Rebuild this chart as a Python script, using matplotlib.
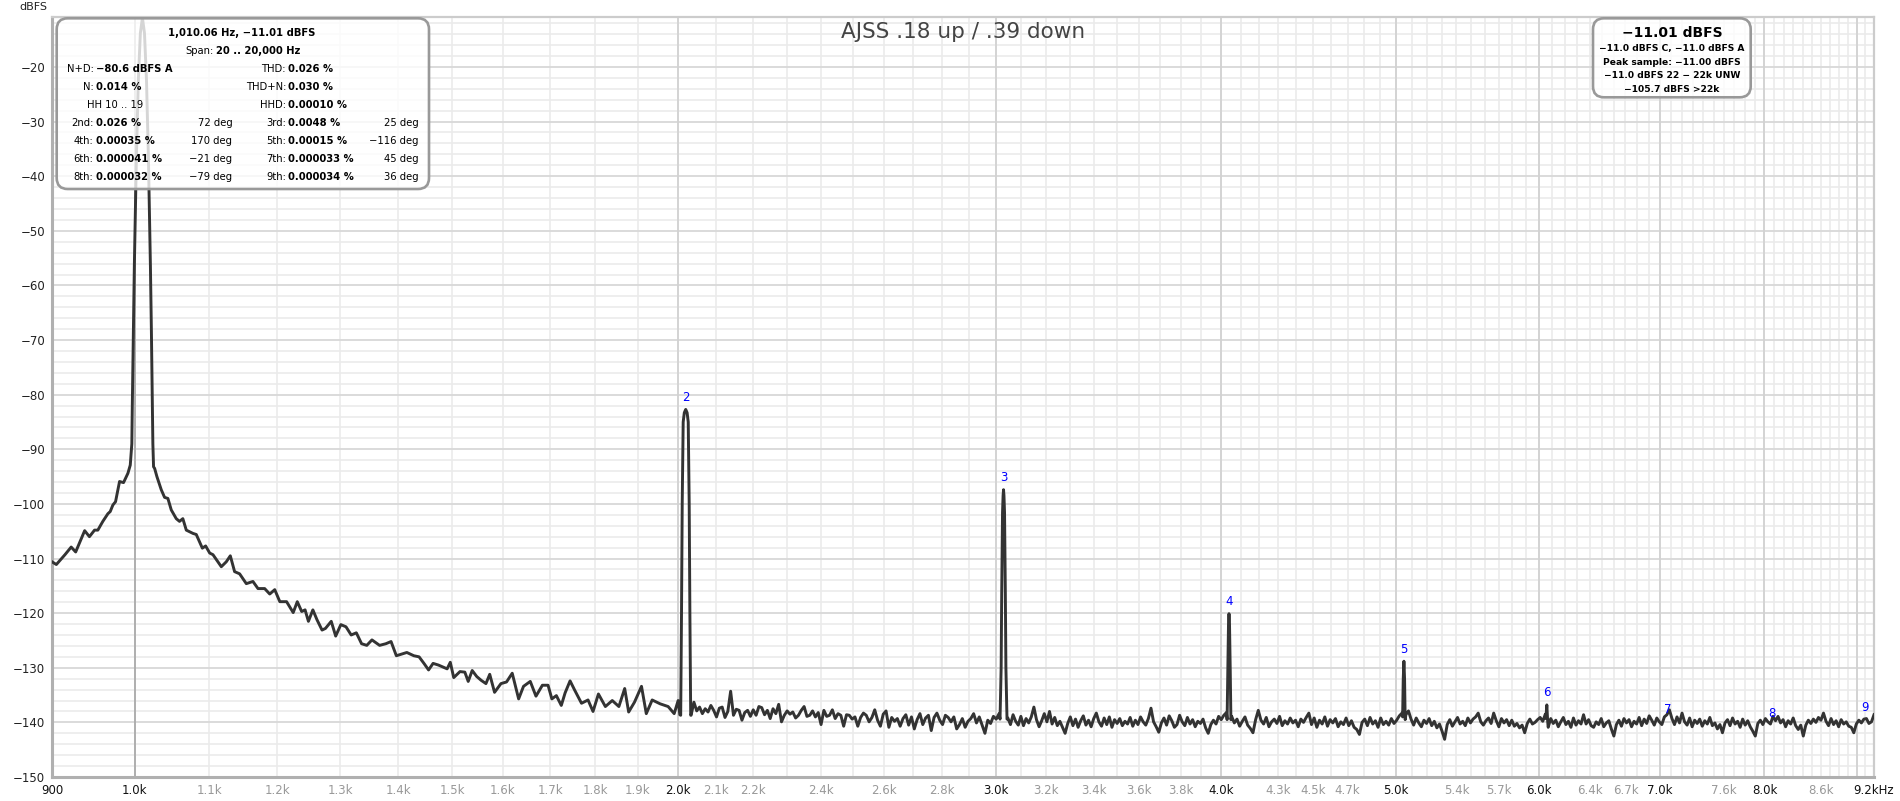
import numpy as np
import matplotlib
matplotlib.use("Agg")
import matplotlib.pyplot as plt
from matplotlib.patches import FancyBboxPatch
from matplotlib.transforms import IdentityTransform
from matplotlib.ticker import FixedLocator, MultipleLocator, NullFormatter

plt.rcParams['font.family'] = ['DejaVu Sans']

# ---- spectrum (Hz, dBFS) ----
skirt_lo_f = [900, 905, 915, 922.3, 927.6, 938.3, 944, 950.2, 954.2, 960.3, 966.5, 969.4,
              972.7, 976, 981, 986, 991.5, 994.5]
skirt_lo_db = [-110.6, -111.1, -109.3, -107.9, -108.8, -104.9, -106, -104.8, -104.8, -103.2,
               -101.8, -101.4, -100.2, -99.6, -95.9, -96.1, -94.4, -92.9]

fund_f = [996.5, 997.1, 998.4, 999.7, 1002.3, 1004.8, 1007.4, 1010.06, 1012.7, 1015.3,
          1017.8, 1020.4, 1021.7, 1023.0, 1023.6]
fund_db = [-89, -82, -68.5, -56.4, -36.6, -22.4, -13.8, -11.01, -13.8, -22.4, -36.6,
           -56.4, -68.5, -82, -89]

skirt_hi_f = [1024.5, 1025.9, 1028.9, 1034.6, 1039, 1043.4, 1047.9, 1054.6, 1059, 1063.5,
              1068.2, 1077.3, 1081.9, 1090.3, 1094.9, 1100.6, 1105.2, 1117, 1124.1, 1129.9,
              1136.1, 1143.4, 1153.2, 1163, 1170.5, 1180.5, 1188.2, 1195.8, 1203.6, 1214,
              1224.3, 1230.7, 1237.6, 1243, 1248.3, 1255.4, 1262, 1270.2, 1275.7, 1285.2,
              1292.5, 1301, 1309.6, 1318.3, 1327, 1335.9, 1344.8, 1353.7, 1367, 1377.9,
              1387.1, 1396.5, 1405.8, 1415.3, 1428, 1437.6, 1447.3, 1455.1, 1463.5, 1473.4]
skirt_hi_db = [-93.2, -93.5, -95, -97.4, -98.8, -99, -101.1, -102.7, -103.2, -102.7,
               -104.8, -105.4, -105.6, -108.1, -107.7, -109, -109.3, -111.5, -110.6, -109.5,
               -112.4, -112.8, -114.6, -114.2, -115.5, -115.5, -116.5, -115.7, -117.9, -117.9,
               -119.9, -117.9, -119.7, -119.4, -121.5, -119.4, -121.2, -123.1, -122.8, -121.5,
               -124.2, -122.1, -122.5, -124, -123.6, -125.6, -125.9, -124.9, -125.9, -125.6,
               -125.2, -127.8, -127.5, -127.2, -127.8, -128, -129.3, -130.4, -129.2, -129.5]

mid_f = [1490, 1496, 1502.6, 1514.6, 1524, 1530.6, 1538.4, 1547.3, 1556.1, 1565.6, 1573.2,
         1582.9, 1595.9, 1607.3, 1619, 1632.3, 1642.5, 1656.7, 1668.8, 1682.5, 1694.7, 1703,
         1712.8, 1723.6, 1732, 1743, 1753.3, 1768.6, 1783.4, 1794.8, 1807.2, 1823.3, 1839.4,
         1855, 1868.8, 1878.3, 1892.3, 1909.3, 1921, 1935.5, 1955.2, 1975.3, 1990.6, 2000.7, 2005]
mid_db = [-130.2, -129.0, -131.8, -130.7, -130.8, -132.5, -130.5, -131.6, -132.3, -132.9,
          -131.2, -134.5, -132.9, -132.6, -131, -135.7, -133.4, -132.5, -135.2, -133.2, -133.2,
          -135.7, -135.1, -136.9, -134.6, -132.4, -134.1, -136.5, -135.9, -138, -134.8, -137.1,
          -136, -137.1, -133.8, -138.1, -136.3, -133.4, -138.4, -135.9, -136.6, -137.1, -138.4,
          -136, -138.6]

h2_f = [2007.2, 2009.3, 2011.1, 2013.6, 2016.5, 2020.1, 2023.7, 2026.6, 2029.1, 2030.9, 2033]
h2_db = [-138.7, -120, -100, -85, -83.3, -82.7, -83.3, -85, -100, -120, -138.7]
h3_f = [3016.7, 3021, 3023.2, 3026.3, 3028.5, 3030.2, 3031.9, 3034.1, 3037.2, 3039.4, 3043.7]
h3_db = [-139.4, -130, -116.3, -101.6, -98.5, -97.4, -98.5, -101.6, -116.3, -130, -139.4]
h4_f = [4030.4, 4034, 4037.6, 4040.2, 4042.8, 4046.4, 4050]
h4_db = [-139.5, -130, -122, -120.1, -122, -130, -139.5]
h5_f = [5042, 5046, 5050.3, 5054.5, 5058.5]
h5_db = [-139, -132, -128.8, -132, -139.5]
h6_f = [6053, 6060.4, 6067]
h6_db = [-139.3, -136.8, -139.8]

# noise floor, read at even (log) steps between the listed edges
floor0_edges = (2034, 3013)
floor0_db = [-138.7, -136.3, -137.9, -137.2, -138.4, -137.5, -138.1, -136.9, -137.8, -139.0,
             -137.4, -137.2, -139.1, -138.0, -134.3, -138.7, -137.6, -137.8, -139.6, -138.2,
             -137.8, -138.9, -137.7, -138.7, -137.1, -137.3, -138.6, -137.8, -139.3, -137.5,
             -138.4, -136.7, -139.9, -138.7, -137.9, -138.5, -138.1, -139.2, -138.7, -137.8,
             -137.1, -138.9, -138.7, -137.9, -139.0, -138.2, -140.4, -137.8, -138.9, -138.7,
             -137.7, -139.3, -138.4, -138.7, -140.7, -138.6, -138.7, -139.4, -139.0, -140.7,
             -139.1, -138.3, -138.7, -139.9, -139.1, -137.7, -139.6, -140.7, -138.5, -137.9,
             -140.9, -139.1, -139.8, -139.3, -140.7, -139.3, -138.6, -140.5, -139.0, -141.2,
             -139.5, -138.4, -140.4, -139.2, -138.7, -141.5, -139.1, -138.3, -139.6, -140.4,
             -138.7, -139.1, -139.9, -139.0, -141.2, -140.4, -139.3, -140.9, -139.8, -139.3,
             -138.4, -140.1, -139.0, -140.5, -142.0, -139.6, -140.2, -138.9, -139.4, -138.4]
floorA_edges = (3047, 4027)
floorA_db = [-139.2, -140.4, -138.6, -139.8, -140.5, -138.9, -140.6, -139.3, -140.1, -139.0,
             -137.2, -139.5, -140.8, -139.7, -138.4, -139.9, -138.0, -140.3, -139.1, -140.6,
             -139.8, -140.9, -142.0, -140.2, -139.0, -140.6, -139.4, -140.9, -139.7, -138.8,
             -140.5, -139.6, -140.8, -139.3, -138.3, -139.9, -140.7, -139.2, -140.4, -139.0,
             -140.9, -139.5, -140.2, -139.3, -140.6, -139.8, -140.3, -139.1, -140.7, -139.6,
             -140.4, -139.0, -139.9, -140.5, -139.3, -137.4, -139.9, -140.8, -141.8, -140.1,
             -139.2, -140.5, -138.8, -139.7, -140.9, -140.4, -138.7, -139.9, -140.6, -139.1,
             -140.3, -139.5, -140.8, -139.8, -140.2, -139.4, -141.0, -142.0, -140.4, -139.6,
             -140.3, -138.9, -139.5, -138.7, -138.2]
floorB_edges = (4054, 5038)
floorB_db = [-138.9, -140.1, -139.4, -140.7, -139.8, -139.0, -140.5, -141.1, -141.9, -139.5,
             -137.8, -139.6, -140.3, -139.1, -140.8, -139.9, -139.4, -140.2, -138.9, -140.6,
             -139.7, -140.3, -139.2, -140.1, -139.6, -140.8, -139.4, -140.0, -139.1, -138.3,
             -140.4, -139.2, -140.9, -139.6, -140.3, -139.0, -140.7, -139.5, -140.1, -139.3,
             -140.8, -139.9, -140.4, -139.2, -140.6, -139.7, -140.9, -141.3, -142.2, -140.0,
             -139.4, -140.6, -139.1, -140.3, -139.7, -140.9, -139.2, -140.4, -139.8, -140.5,
             -139.3, -140.2, -139.6, -138.8, -138.3]
floorC1_edges = (5063, 6049)
floorC1_db = [-138.6, -137.9, -139.4, -140.5, -139.2, -140.1, -140.8, -139.6, -140.2, -139.3,
              -140.6, -139.8, -141.0, -140.3, -141.6, -143.1, -140.4, -139.5, -140.7, -139.9,
              -139.1, -140.3, -139.8, -140.6, -139.2, -140.1, -139.4, -139.0, -138.3, -139.9,
              -140.5, -139.7, -139.2, -140.2, -138.3, -139.7, -140.8, -139.3, -140.1, -139.5,
              -140.6, -139.6, -140.7, -140.2, -141.0, -140.5, -141.9, -140.2, -139.4, -140.3,
              -140.0, -139.5, -139.1, -139.8, -138.5]
floorC2_edges = (6071, 9200)
floorC2_db = [-140.9, -139.3, -140.2, -139.6, -140.8, -139.9, -139.1, -140.4, -139.8, -140.9,
              -139.2, -140.5, -139.7, -140.3, -138.6, -140.3, -139.5, -140.6, -140.9, -139.9,
              -140.4, -139.3, -140.8, -140.1, -139.7, -141.2, -142.5, -140.4, -139.6, -140.7,
              -139.3, -140.1, -139.5, -140.8, -139.8, -140.3, -139.1, -140.6, -139.4, -140.2,
              -138.8, -139.6, -140.5, -139.2, -139.9, -140.4, -139.0, -138.6, -137.7, -139.3,
              -140.4, -139.0, -140.1, -138.3, -139.9, -140.5, -139.2, -140.8, -139.6, -140.2,
              -139.4, -140.7, -139.7, -140.3, -139.1, -140.6, -140.1, -141.2, -140.4, -141.9,
              -140.1, -139.5, -140.6, -139.2, -140.3, -139.8, -140.9, -139.4, -140.5, -139.7,
              -140.8, -141.6, -142.5, -140.2, -139.6, -140.4, -139.3, -139.9, -140.3, -138.9,
              -139.7, -138.9, -140.1, -139.5, -140.8, -139.7, -140.3, -139.2, -140.6, -141.3,
              -140.5, -142.5, -140.5, -139.6, -140.2, -139.4, -140.0, -139.1, -139.6, -138.3,
              -139.8, -140.6, -139.3, -140.4, -139.7, -140.8, -139.5, -140.3, -139.9, -140.7,
              -140.9, -141.9, -140.3, -139.6, -140.1, -139.4, -139.3, -140.2, -139.9, -138.6]

# harmonic markers
harm_n = ['2', '3', '4', '5', '6', '7', '8', '9']
harm_f = [2020.1, 3030.2, 4040.2, 5050.3, 6060.4, 7070.4, 8080.5, 9090.5]
harm_db = [-82.7, -97.4, -120.1, -128.8, -136.8, -139.9, -140.6, -139.5]

# x tick labels
tick_f = [900, 1000, 1100, 1200, 1300, 1400, 1500, 1600, 1700, 1800, 1900, 2000, 2100, 2200,
          2400, 2600, 2800, 3000, 3200, 3400, 3600, 3800, 4000, 4300, 4500, 4700, 5000, 5400,
          5700, 6000, 6400, 6700, 7000, 7600, 8000, 8600, 9200]
tick_lab = ['900', '1.0k', '1.1k', '1.2k', '1.3k', '1.4k', '1.5k', '1.6k', '1.7k', '1.8k',
            '1.9k', '2.0k', '2.1k', '2.2k', '2.4k', '2.6k', '2.8k', '3.0k', '3.2k', '3.4k',
            '3.6k', '3.8k', '4.0k', '4.3k', '4.5k', '4.7k', '5.0k', '5.4k', '5.7k', '6.0k',
            '6.4k', '6.7k', '7.0k', '7.6k', '8.0k', '8.6k', '9.2kHz']
dark_ticks = ['900', '1.0k', '2.0k', '3.0k', '4.0k', '5.0k', '6.0k', '7.0k', '8.0k', '9.2kHz']
y_ticks = [-150, -140, -130, -120, -110, -100, -90, -80, -70, -60, -50, -40, -30, -20]

# measurement panel text
head_line = '1,010.06 Hz, \u221211.01 dBFS'
span_val = '20 .. 20,000 Hz'
left_keys = ['N+D:', 'N:', None]
left_vals = ['\u221280.6 dBFS A', '0.014 %', None]
right_keys = ['THD:', 'THD+N:', 'HHD:']
right_vals = ['0.026 %', '0.030 %', '0.00010 %']
hh_range = 'HH 10 .. 19'
h_names = ['2nd:', '3rd:', '4th:', '5th:', '6th:', '7th:', '8th:', '9th:']
h_pct = ['0.026 %', '0.0048 %', '0.00035 %', '0.00015 %', '0.000041 %', '0.000033 %',
         '0.000032 %', '0.000034 %']
h_deg = ['72 deg', '25 deg', '170 deg', '\u2212116 deg', '\u221221 deg', '45 deg',
         '\u221279 deg', '36 deg']
level_lines = ['\u221211.01 dBFS', '\u221211.0 dBFS C, \u221211.0 dBFS A',
               'Peak sample: \u221211.00 dBFS', '\u221211.0 dBFS 22 \u2212 22k UNW',
               '\u2212105.7 dBFS >22k']
title = 'AJSS .18 up / .39 down'

# ---- assemble the trace ----
freq = list(skirt_lo_f) + fund_f + skirt_hi_f + mid_f + h2_f
level = list(skirt_lo_db) + fund_db + skirt_hi_db + mid_db + h2_db
for (edges, vals), (pf, pd) in zip(
        [(floor0_edges, floor0_db), (floorA_edges, floorA_db), (floorB_edges, floorB_db),
         (floorC1_edges, floorC1_db), (floorC2_edges, floorC2_db)],
        [(h3_f, h3_db), (h4_f, h4_db), (h5_f, h5_db), (h6_f, h6_db), ([], [])]):
    freq += list(np.geomspace(edges[0], edges[1], len(vals)))
    level += vals
    freq += pf
    level += pd

W, H = 1900, 801
fig = plt.figure(figsize=(W / 100, H / 100), dpi=100)
ax = fig.add_axes([52 / W, 1 - 777 / H, (1874 - 52) / W, (777 - 16.7) / H])

ax.set_xscale('log')
ax.set_xlim(900, 9200)
ax.set_ylim(-150, -10.8)

ax.plot(freq, level, color='#333333', lw=2.1, solid_joinstyle='round', zorder=3)

for n, f, d in zip(harm_n, harm_f, harm_db):
    ax.annotate(n, (f, d), xytext=(0, 12), textcoords='offset pixels', ha='center',
                va='center', color='#0000ff', fontsize=8.5, zorder=4)

# grid
ax.xaxis.remove_overlapping_locs = False
ax.xaxis.set_major_locator(FixedLocator(tick_f))
ax.xaxis.set_minor_locator(MultipleLocator(100))
ax.xaxis.set_minor_formatter(NullFormatter())
ax.set_xticklabels(tick_lab)
ax.yaxis.set_major_locator(FixedLocator(y_ticks))
ax.yaxis.set_minor_locator(MultipleLocator(2))
ax.set_yticklabels(['\u2212%d' % abs(v) for v in y_ticks])
ax.grid(which='minor', color='#ebebeb', lw=1.2, zorder=0)
ax.grid(which='major', axis='y', color='#d8d8d8', lw=1.3, zorder=0)
for k in range(1000, 9001, 1000):
    ax.axvline(k, color='#aaaaaa' if k == 1000 else '#d2d2d2', lw=1.3, zorder=1)
ax.set_axisbelow(True)

ax.tick_params(which='both', length=0)
ax.tick_params(axis='x', labelsize=8.5, pad=5)
ax.tick_params(axis='y', labelsize=8.5, pad=5, labelcolor='#222222')
for lab in ax.get_xticklabels():
    lab.set_color('#111111' if lab.get_text() in dark_ticks else '#999999')

for side in ['left', 'bottom']:
    ax.spines[side].set_color('#b0b0b0')
    ax.spines[side].set_linewidth(2.2)
for side in ['top', 'right']:
    ax.spines[side].set_color('#cccccc')
    ax.spines[side].set_linewidth(1.6)


def put(x, y, s, **kw):
    fig.text(x / W, 1 - y / H, s, va='center', **kw)


def panel(x0, y0, x1, y1):
    box = FancyBboxPatch((x0, H - y1), x1 - x0, y1 - y0,
                         boxstyle='round,pad=0,rounding_size=11',
                         transform=IdentityTransform(), facecolor=(1, 1, 1, 0.8),
                         edgecolor='#999999', lw=1.9, zorder=5)
    fig.add_artist(box)


put(33, 6.7, 'dBFS', ha='center', fontsize=8, color='#222222')
put(963, 31.5, title, ha='center', fontsize=15.5, color='#444444')

# left panel
fs = 7.2
panel(56.7, 18.3, 429, 189)
put(241.7, 32.7, head_line, ha='center', fontsize=fs, fontweight='bold', zorder=6)
put(213.5, 50.7, 'Span:', ha='right', fontsize=fs, zorder=6)
put(215.5, 50.7, span_val, ha='left', fontsize=fs, fontweight='bold', zorder=6)
rows = [69, 87.3, 104.7]
for y, lk, lv, rk, rv in zip(rows, left_keys, left_vals, right_keys, right_vals):
    if lk:
        put(93.5, y, lk, ha='right', fontsize=fs, zorder=6)
        put(95.5, y, lv, ha='left', fontsize=fs, fontweight='bold', zorder=6)
    put(286, y, rk, ha='right', fontsize=fs, zorder=6)
    put(288, y, rv, ha='left', fontsize=fs, fontweight='bold', zorder=6)
put(114.7, rows[2], hh_range, ha='center', fontsize=fs, zorder=6)
hrows = [122.7, 140.7, 158.7, 176.7]
for i, y in enumerate(hrows):
    for j, (kx, dx) in enumerate([(93.5, 232.3), (286, 418.3)]):
        k = 2 * i + j
        put(kx, y, h_names[k], ha='right', fontsize=fs, zorder=6)
        put(kx + 2, y, h_pct[k], ha='left', fontsize=fs, fontweight='bold', zorder=6)
        put(dx, y, h_deg[k], ha='right', fontsize=fs, zorder=6)

# right panel
panel(1593, 18.3, 1750.7, 97.3)
put(1672, 32.7, level_lines[0], ha='center', fontsize=10, fontweight='bold', zorder=6)
for y, s in zip([48.3, 62.7, 76, 89.3], level_lines[1:]):
    put(1672, y, s, ha='center', fontsize=6.6, fontweight='bold', zorder=6)

fig.savefig('out.png', dpi=100)
